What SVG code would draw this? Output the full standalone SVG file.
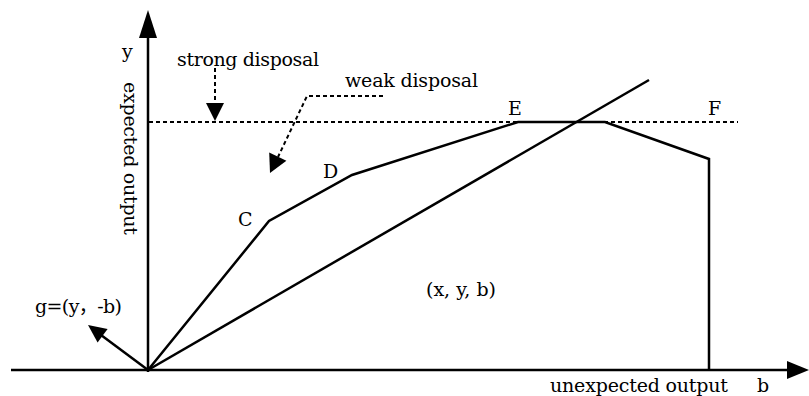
<svg xmlns="http://www.w3.org/2000/svg" width="809" height="396" viewBox="0 0 809 396">
<style>
text{font-family:"DejaVu Serif","Liberation Serif",serif;font-size:19px;fill:#000}
.ln{fill:none;stroke:#000;stroke-width:2.5;stroke-linejoin:miter}
.ds{fill:none;stroke:#000;stroke-width:2;stroke-dasharray:4 3}
.hd{fill:#000;stroke:none}
</style>
<rect width="809" height="396" fill="#fff"/>
<g id="connectors">
  <g id="x-axis">
    <line class="ln" x1="11" y1="370" x2="789" y2="370"/>
    <polygon class="hd" points="787,361 809,370 787,379"/>
  </g>
  <g id="y-axis">
    <line class="ln" x1="148" y1="372" x2="148" y2="36"/>
    <polygon class="hd" points="139,38 148,10 157,38"/>
  </g>
  <line id="frontier-dashed" class="ds" x1="149" y1="122" x2="738" y2="122"/>
  <polyline id="frontier-weak" class="ln" points="148,370 269,221 352,175 518,122 605,122 709,159 709,370"/>
  <line id="ray" class="ln" x1="148" y1="370" x2="649" y2="80"/>
  <g id="strong-arrow">
    <line class="ds" x1="215" y1="68" x2="215" y2="105"/>
    <polygon class="hd" points="206,103 224,103 215,121"/>
  </g>
  <g id="weak-arrow">
    <polyline class="ds" points="383,96 307,96 278,157"/>
    <polygon class="hd" points="270,173 286.4,160.8 269.2,152.6"/>
  </g>
  <g id="g-arrow">
    <line class="ln" x1="148" y1="370" x2="101" y2="335"/>
    <polygon class="hd" points="88,325 107.6,329.1 97.6,342.6"/>
  </g>
</g>
<g id="labels">
  <g id="label-y"><text x="122" y="58">y</text></g>
  <g id="label-expected"><text transform="translate(124,82) rotate(90)" textLength="153">expected output</text></g>
  <g id="label-strong"><text x="177" y="66" textLength="142">strong disposal</text></g>
  <g id="label-weak"><text x="345" y="87" textLength="133">weak disposal</text></g>
  <g id="node-C"><text x="238" y="226">C</text></g>
  <g id="node-D"><text x="323" y="178">D</text></g>
  <g id="node-E"><text x="508" y="115">E</text></g>
  <g id="node-F"><text x="708" y="115">F</text></g>
  <g id="label-xyb"><text x="426" y="296" textLength="70">(x, y, b)</text></g>
  <g id="label-g"><text x="35" y="313" textLength="87" style="font-family:'DejaVu Serif','Noto Sans CJK SC',serif">g=(y，-b)</text></g>
  <g id="label-unexpected"><text x="550" y="392" textLength="178">unexpected output</text></g>
  <g id="label-b"><text x="757" y="392">b</text></g>
</g>
</svg>
